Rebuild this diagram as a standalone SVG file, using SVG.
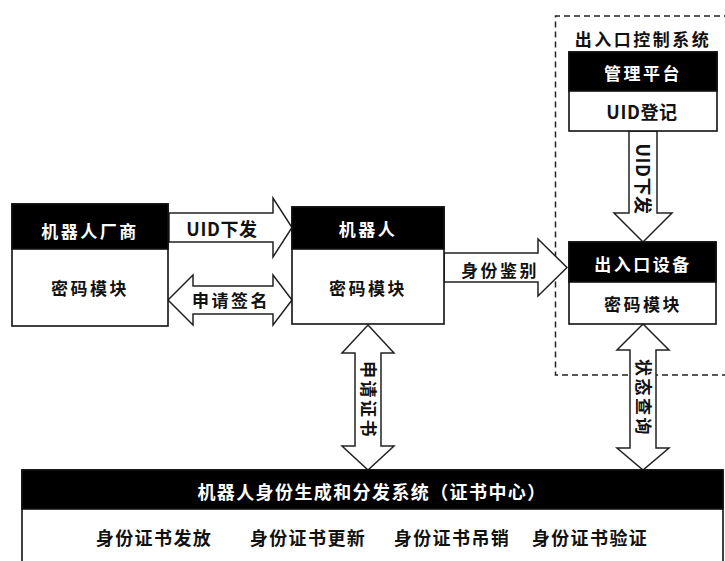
<svg xmlns="http://www.w3.org/2000/svg" width="725" height="561" viewBox="0 0 725 561">
<style>
.box{fill:#fff;stroke:#111;stroke-width:1.6}
.hdr{fill:#000;stroke:#111;stroke-width:1.6}
.arr{fill:#fff;stroke:#222;stroke-width:1.5;stroke-linejoin:miter}
text{font-family:"Noto Sans CJK SC","Noto Sans",sans-serif;font-weight:700;font-size:17px;letter-spacing:2.5px;text-anchor:middle;dominant-baseline:central}
.w{fill:#fff}
.k{fill:#111}
.uid{font-size:18px;letter-spacing:0.6px}
.big{font-size:18px;letter-spacing:1.4px}
.dash{fill:none;stroke:#222;stroke-width:1.5;stroke-dasharray:6 4}
</style>
<rect width="725" height="561" fill="#fff"/>

<g id="access-control-system">
<path class="dash" d="M740,16 H555.5 V375 H740"/>
<text class="k" x="643" y="38">出入口控制系统</text>
</g>

<g id="connectors">
<path id="uid-issue" class="arr" d="M169,213 H273 V198 L292,227.5 L273,257 V242 H169 Z"/>
<text class="k uid" x="222" y="228">UID下发</text>
<path id="apply-sign" class="arr" d="M168,300 L193,275 V286 H273 V275 L292,300 L273,325 V314 H193 V325 Z"/>
<text class="k" x="231" y="299">申请签名</text>
<path id="identity-auth" class="arr" d="M444,253 H538 V239 L567,267.5 L538,296 V282 H444 Z"/>
<text class="k" x="500" y="269">身份鉴别</text>
<path id="uid-issue-down" class="arr" d="M629,131 H657 V213 H672 L643,242 L614,213 H629 Z"/>
<text class="k uid" transform="translate(644,179) rotate(90)">UID下发</text>
<path id="apply-cert" class="arr" d="M368,325 L394,353 H381 V446 H394 L368,470 L342,446 H355 V353 H342 Z"/>
<text class="k" transform="translate(369,400) rotate(90)">申请证书</text>
<path id="status-query" class="arr" d="M643,324 L669,350 H656 V448 H669 L643,470 L617,448 H630 V350 H617 Z"/>
<text class="k" transform="translate(644,398) rotate(90)">状态查询</text>
</g>

<g id="manufacturer">
<rect class="box" x="12" y="204" width="156" height="122"/>
<rect class="hdr" x="12" y="204" width="156" height="45"/>
<text class="w" x="90" y="230">机器人厂商</text>
<text class="k" x="90" y="287">密码模块</text>
</g>

<g id="robot">
<rect class="box" x="292" y="207" width="152" height="117"/>
<rect class="hdr" x="292" y="207" width="152" height="42"/>
<text class="w" x="368" y="228">机器人</text>
<text class="k" x="368" y="287">密码模块</text>
</g>

<g id="management-platform">
<rect class="box" x="569" y="52" width="148" height="79"/>
<rect class="hdr" x="569" y="52" width="148" height="39"/>
<text class="w" x="643" y="72">管理平台</text>
<text class="k uid" x="642" y="111">UID登记</text>
</g>

<g id="access-device">
<rect class="box" x="569" y="242" width="147" height="82"/>
<rect class="hdr" x="569" y="242" width="147" height="40"/>
<text class="w" x="643" y="263">出入口设备</text>
<text class="k" x="643" y="303">密码模块</text>
</g>

<g id="cert-center">
<rect class="box" x="22" y="470" width="701" height="100"/>
<rect class="hdr" x="22" y="470" width="701" height="39"/>
<text class="w big" x="372" y="491">机器人身份生成和分发系统（证书中心）</text>
<text class="k big" x="154" y="537">身份证书发放</text>
<text class="k big" x="308" y="537">身份证书更新</text>
<text class="k big" x="452" y="537">身份证书吊销</text>
<text class="k big" x="590" y="537">身份证书验证</text>
</g>
</svg>
